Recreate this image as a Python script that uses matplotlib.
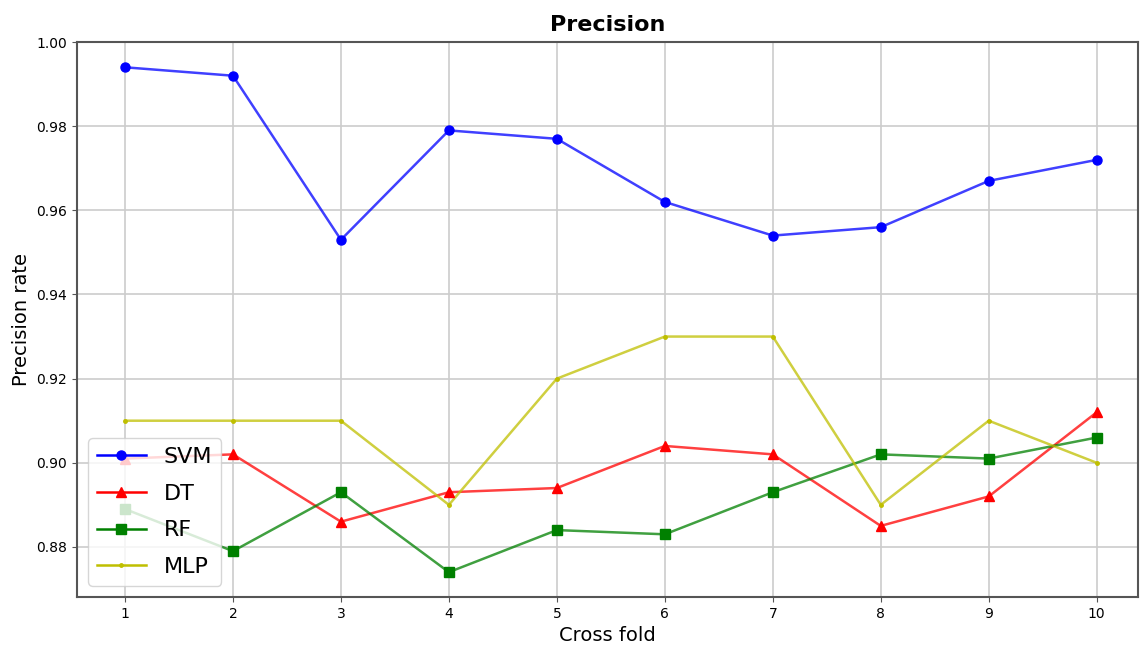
import matplotlib
matplotlib.use("Agg")
import matplotlib.pyplot as plt
from matplotlib.lines import Line2D

folds = [1, 2, 3, 4, 5, 6, 7, 8, 9, 10]
svm = [0.994, 0.992, 0.953, 0.979, 0.977, 0.962, 0.954, 0.956, 0.967, 0.972]
dt = [0.901, 0.902, 0.886, 0.893, 0.894, 0.904, 0.902, 0.885, 0.892, 0.912]
rf = [0.889, 0.879, 0.893, 0.874, 0.884, 0.883, 0.893, 0.902, 0.901, 0.906]
mlp = [0.910, 0.910, 0.910, 0.890, 0.920, 0.930, 0.930, 0.890, 0.910, 0.900]
series_names = ["SVM", "DT", "RF", "MLP"]
yticks = [0.88, 0.90, 0.92, 0.94, 0.96, 0.98, 1.00]

fig = plt.figure(figsize=(11.4, 6.47), dpi=100)
ax = fig.add_axes([0.0675, 0.0773, 0.9305, 0.8577])

specs = [(svm, "b", "o", 6.5), (dt, "r", "^", 6.5), (rf, "g", "s", 6.5), (mlp, "y", ".", 5)]
handles = []
for (vals, c, m, ms), name in zip(specs, series_names):
    ax.plot(folds, vals, color=c, lw=1.8, alpha=0.75, zorder=3)
    ax.plot(folds, vals, ls="none", marker=m, color=c, ms=ms, zorder=4)
    handles.append(Line2D([], [], color=c, marker=m, ms=ms, lw=1.8, label=name))

ax.set_xlim(0.555, 10.38)
ax.set_ylim(0.8681, 1.0)
ax.set_xticks(folds)
ax.set_yticks(yticks)
ax.set_yticklabels([f"{v:.2f}" for v in yticks])
ax.grid(True, color="#cccccc", lw=1.2, zorder=0)
for s in ax.spines.values():
    s.set_color("#555555")
    s.set_linewidth(1.5)
ax.tick_params(labelsize=10, color="#555555")
ax.set_xlabel("Cross fold", fontsize=14)
ax.set_ylabel("Precision rate", fontsize=14)
ax.set_title("Precision", fontsize=16, fontweight="bold", pad=8)
ax.legend(handles=handles, loc="lower left", fontsize=16, framealpha=0.8,
          borderaxespad=0.5, handlelength=2.2, labelspacing=0.75)
fig.savefig("out.png", dpi=100)
